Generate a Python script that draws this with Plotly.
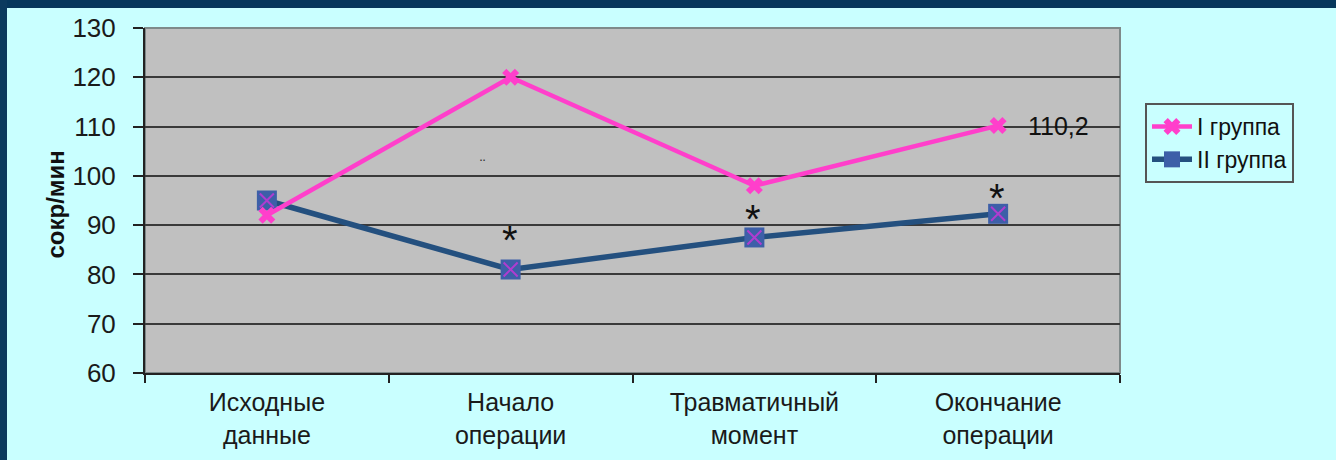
import plotly.graph_objects as go

# Data
categories = ["Исходные<br>данные", "Начало<br>операции", "Травматичный<br>момент", "Окончание<br>операции"]
group1 = [92.0, 120.0, 98.0, 110.2]
group2 = [95.0, 81.0, 87.5, 92.3]
group1_name = "I группа"
group2_name = "II группа"
significant = [False, True, True, True]   # '*' marks over group II
y_ticks = [60, 70, 80, 90, 100, 110, 120, 130]

W, H = 1336, 460
L, R, T, B = 145, 216, 28, 87
PW, PH = W - L - R, H - T - B


def px_x(p):
    return (p - L) / PW


def px_y(p):
    return 1 - (p - T) / PH


PINK = "#FF3FCB"
NAVY = "#24507F"
SQUARE = "#3D5FA8"
CROSS = "#B03CD0"
BG = "#C9FFFF"
FONT = "Liberation Sans"

fig = go.Figure()

fig.add_trace(go.Scatter(
    x=categories, y=group2, name=group2_name, mode="lines+markers",
    line=dict(color=NAVY, width=5.5),
    marker=dict(symbol="square", size=20, color=SQUARE, line=dict(width=0)),
))
fig.add_trace(go.Scatter(
    x=categories, y=group2, mode="markers", showlegend=False, hoverinfo="skip",
    marker=dict(symbol="x-thin", size=14, line=dict(color=CROSS, width=2)),
))
fig.add_trace(go.Scatter(
    x=categories, y=group1, name=group1_name, mode="lines+markers",
    line=dict(color=PINK, width=4.5),
    marker=dict(symbol="x", size=15, color=PINK, line=dict(width=0)),
))

# vertical offsets of the significance marks above group II points
star_shift = [0, 30, 18, 16]

annotations = []
for cat, val, sig, dy in zip(categories, group2, significant, star_shift):
    if sig:
        annotations.append(dict(x=cat, y=val, text="*", showarrow=False,
                                yshift=dy, xshift=-1,
                                font=dict(size=40, color="#111111", family=FONT)))
# value label for the last point of group I
annotations.append(dict(x=categories[-1], y=group1[-1], text="110,2", showarrow=False,
                        xanchor="left", xshift=28, yshift=0,
                        font=dict(size=25, color="#111111", family=FONT)))
annotations.append(dict(x=categories[1], y=102.2, text="¨", showarrow=False, xshift=-28,
                        font=dict(size=16, color="#333333", family=FONT)))
# y axis title
annotations.append(dict(xref="paper", yref="paper", x=px_x(39), y=px_y(205), text="<b>сокр/мин</b>",
                        textangle=-90, showarrow=False,
                        font=dict(size=24, color="#111111", family=FONT)))

shapes = [
    # dark frame of the slide
    dict(type="rect", xref="paper", yref="paper", x0=px_x(0), x1=px_x(W), y0=px_y(0), y1=px_y(8),
         fillcolor="#06375C", line=dict(width=0), layer="above"),
    dict(type="rect", xref="paper", yref="paper", x0=px_x(0), x1=px_x(7), y0=px_y(0), y1=px_y(H),
         fillcolor="#0B3A5E", line=dict(width=0), layer="above"),
    # plot-area border
    dict(type="rect", xref="paper", yref="paper", x0=0, x1=1, y0=0, y1=1,
         line=dict(color="#7F8A8A", width=2), layer="below"),
]

fig.update_layout(
    width=W, height=H,
    margin=dict(l=L, r=R, t=T, b=B),
    paper_bgcolor=BG, plot_bgcolor="#C0C0C0",
    font=dict(family=FONT, color="#1A1A1A"),
    showlegend=True,
    legend=dict(x=px_x(1145), y=px_y(103), xanchor="left", yanchor="top",
                bgcolor=BG, bordercolor="#555555", borderwidth=2,
                font=dict(size=23, color="#111111"), traceorder="reversed",
                itemwidth=40, tracegroupgap=4),
    annotations=annotations,
    shapes=shapes,
    xaxis=dict(type="category", range=[-0.5, 3.5], showgrid=False, zeroline=False,
               showline=True, linecolor="#222222", linewidth=2,
               ticks="outside", tickson="boundaries", ticklen=8, tickwidth=2, tickcolor="#222222",
               tickfont=dict(size=25, color="#1A1A1A"), ticklabelstandoff=6),
    yaxis=dict(range=[60, 130], tickvals=y_ticks, showgrid=True, gridcolor="#3A3A3A", gridwidth=2,
               zeroline=False, showline=True, linecolor="#222222", linewidth=2,
               ticks="outside", ticklen=10, tickwidth=2, tickcolor="#222222",
               tickfont=dict(size=26, color="#1A1A1A"), ticklabelstandoff=12),
)

fig.write_html("out.html")
